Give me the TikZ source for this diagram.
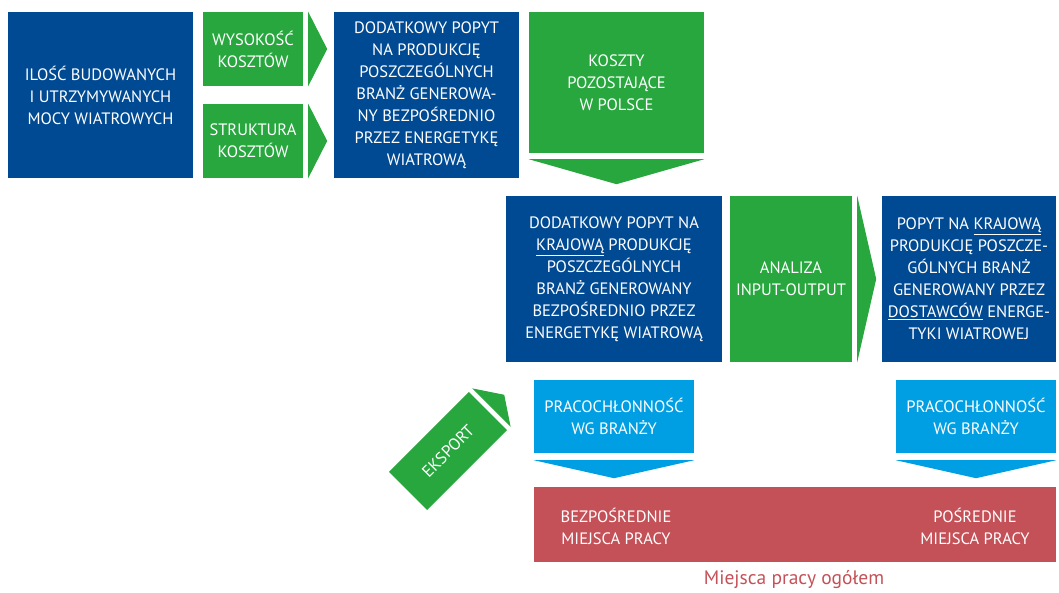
\documentclass[tikz,border=0pt]{standalone}
\usepackage{fontspec}
\setmainfont{PT Sans}
\usetikzlibrary{positioning}
\definecolor{granat}{RGB}{0,74,147}
\definecolor{zielony}{RGB}{39,167,62}
\definecolor{blekit}{RGB}{0,159,227}
\definecolor{czerwien}{RGB}{196,81,87}
\newcommand{\napis}{\fontsize{16.5}{22}\selectfont}

\begin{document}
\begin{tikzpicture}[x=1pt,y=-1pt]
		\tikzstyle{every node}+=[inner sep=0pt]
		\tikzstyle{pole}=[rectangle, align=center, text=white, font=\napis]
		\tikzstyle{granatowe}=[pole, fill=granat]
		\tikzstyle{zielone}=[pole, fill=zielony]
		\tikzstyle{blekitne}=[pole, fill=blekit, minimum width=160pt, minimum height=73pt]
		\useasboundingbox (0,0) rectangle (1059,592);
		\node [granatowe, minimum width=185pt, minimum height=166pt] (moce) at (100.5,95) {ILOŚĆ BUDOWANYCH\\I UTRZYMYWANYCH\\MOCY WIATROWYCH};
		\node [zielone, minimum width=100pt, minimum height=74pt] (wysokosc) at (253,49) {WYSOKOŚĆ\\KOSZTÓW};
		\node [zielone, minimum width=100pt, minimum height=74pt] (struktura) at (253,141) {STRUKTURA\\KOSZTÓW};
		\fill [zielony] ([xshift=5pt]wysokosc.north east) -- ([xshift=24pt]wysokosc.east) -- ([xshift=5pt]wysokosc.south east) -- cycle;
		\fill [zielony] ([xshift=5pt]struktura.north east) -- ([xshift=24pt]struktura.east) -- ([xshift=5pt]struktura.south east) -- cycle;
		\node [granatowe, minimum width=185pt, minimum height=166pt] (popyt) at (426.5,95) {DODATKOWY POPYT\\NA PRODUKCJĘ\\POSZCZEGÓLNYCH\\BRANŻ GENEROWA-\\NY BEZPOŚREDNIO\\PRZEZ ENERGETYKĘ\\WIATROWĄ};
		\node [zielone, minimum width=175pt, minimum height=141pt] (koszty) at (616.5,82.5) {KOSZTY\\POZOSTAJĄCE\\W POLSCE};
		\fill [zielony] ([yshift=-6pt]koszty.south west) -- ([yshift=-6pt]koszty.south east) -- ([yshift=-31pt]koszty.south) -- cycle;
		\node [granatowe, minimum width=216pt, minimum height=166pt] (krajowy) at (614,279) {DODATKOWY POPYT NA\\\underline{KRAJOWĄ} PRODUKCJĘ\\POSZCZEGÓLNYCH\\BRANŻ GENEROWANY\\BEZPOŚREDNIO PRZEZ\\ENERGETYKĘ WIATROWĄ};
		\node [zielone, minimum width=122pt, minimum height=166pt] (analiza) at (791,279) {ANALIZA\\INPUT-OUTPUT};
		\fill [zielony] ([xshift=5pt]analiza.north east) -- ([xshift=24pt]analiza.east) -- ([xshift=5pt]analiza.south east) -- cycle;
		\node [granatowe, minimum width=174pt, minimum height=166pt] (dostawcy) at (969,279) {POPYT NA \underline{KRAJOWĄ}\\PRODUKCJĘ POSZCZE-\\GÓLNYCH BRANŻ\\GENEROWANY PRZEZ\\\underline{DOSTAWCÓW} ENERGE-\\TYKI WIATROWEJ};
		\node [blekitne] (pracaL) at (614,416.5) {PRACOCHŁONNOŚĆ\\WG BRANŻY};
		\fill [blekit] ([yshift=-7pt]pracaL.south west) -- ([yshift=-7pt]pracaL.south east) -- ([yshift=-25pt]pracaL.south) -- cycle;
		\node [blekitne] (pracaP) at (976,416.5) {PRACOCHŁONNOŚĆ\\WG BRANŻY};
		\fill [blekit] ([yshift=-7pt]pracaP.south west) -- ([yshift=-7pt]pracaP.south east) -- ([yshift=-25pt]pracaP.south) -- cycle;
		\node [pole, fill=czerwien, minimum width=522pt, minimum height=75pt] (miejsca) at (795,524.5) {};
		\node [pole] (bezposrednie) at (616,526) {BEZPOŚREDNIE\\MIEJSCA PRACY};
		\node [pole] (posrednie) at (975,526) {POŚREDNIE\\MIEJSCA PRACY};
		\node [text=czerwien, font=\fontsize{19.5}{24}\selectfont] (ogolem) at (794,580) {Miejsca pracy ogółem};
		\node [zielone, rotate=45, minimum width=113pt, minimum height=54pt] (eksport) at (448,451) {EKSPORT};
		\begin{scope}[shift={(eksport.center)}, rotate=45]
			\fill [zielony] (61.5,27) -- (79.5,0) -- (61.5,-27) -- cycle;
		\end{scope}
\end{tikzpicture}
\end{document}
